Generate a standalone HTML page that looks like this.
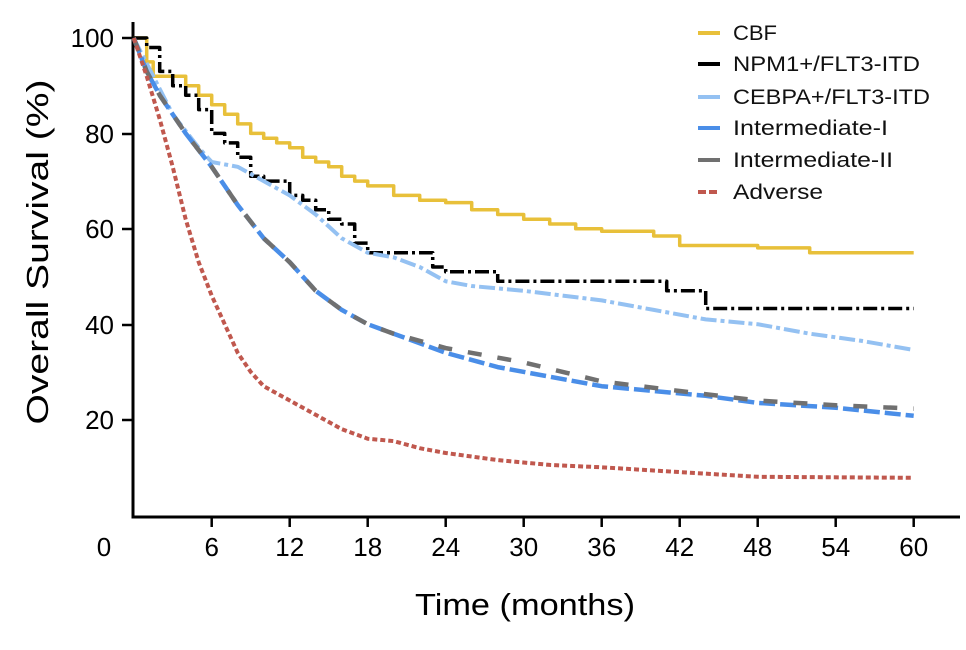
<!DOCTYPE html>
<html><head><meta charset="utf-8"><style>
html,body{margin:0;padding:0;background:#fff}
svg{display:block;font-family:"Liberation Sans",sans-serif}
</style></head><body>
<svg id="s" width="966" height="650" viewBox="0 0 966 650">
<rect width="966" height="650" fill="#fff"/>
<line x1="133" y1="22" x2="133" y2="518" stroke="#000" stroke-width="3"/>
<line x1="131.5" y1="517" x2="960" y2="517" stroke="#000" stroke-width="3"/>
<g stroke="#000" stroke-width="2.5">
<line x1="122" y1="38" x2="133" y2="38"/><line x1="122" y1="134" x2="133" y2="134"/>
<line x1="122" y1="229" x2="133" y2="229"/><line x1="122" y1="325" x2="133" y2="325"/>
<line x1="122" y1="420" x2="133" y2="420"/>
</g>
<g id="xt" stroke="#000" stroke-width="2.5"></g>
<g font-size="26" text-anchor="end" fill="#000">
<text x="114" y="47">100</text><text x="114" y="143">80</text><text x="114" y="238">60</text>
<text x="114" y="334">40</text><text x="114" y="429">20</text>
</g>
<g id="xl" font-size="26" text-anchor="middle" fill="#000"><text x="104" y="556">0</text></g>
<text x="525" y="615" font-size="31" text-anchor="middle" textLength="220" lengthAdjust="spacingAndGlyphs">Time (months)</text>
<text transform="translate(48,252) rotate(-90)" font-size="31" text-anchor="middle" textLength="345" lengthAdjust="spacingAndGlyphs">Overall Survival (%)</text>
<g id="curves" fill="none"></g>
<g font-size="21" fill="#111">
<line x1="698" y1="33" x2="720" y2="33" stroke="#e8c03a" stroke-width="4"/><text x="733" y="40" textLength="44" lengthAdjust="spacingAndGlyphs">CBF</text>
<line x1="698" y1="64" x2="720" y2="64" stroke="#000" stroke-width="4"/><text x="733" y="71" textLength="187" lengthAdjust="spacingAndGlyphs">NPM1+/FLT3-ITD</text>
<line x1="698" y1="97" x2="720" y2="97" stroke="#94c1f2" stroke-width="4"/><text x="733" y="104" textLength="197" lengthAdjust="spacingAndGlyphs">CEBPA+/FLT3-ITD</text>
<line x1="698" y1="128" x2="720" y2="128" stroke="#4a8ee8" stroke-width="4"/><text x="733" y="135" textLength="155" lengthAdjust="spacingAndGlyphs">Intermediate-I</text>
<line x1="698" y1="160" x2="720" y2="160" stroke="#707070" stroke-width="4"/><text x="733" y="167" textLength="160" lengthAdjust="spacingAndGlyphs">Intermediate-II</text>
<line x1="698" y1="192" x2="720" y2="192" stroke="#c0584e" stroke-width="4" stroke-dasharray="8,3"/><text x="733" y="199" textLength="90" lengthAdjust="spacingAndGlyphs">Adverse</text>
</g>
</svg>
<script>
var NS="http://www.w3.org/2000/svg";
function X(m){return 133.7+m*13;}function Y(p){return 515-p*4.77;}
var xt=document.getElementById('xt'),xl=document.getElementById('xl');
for(var m=6;m<=60;m+=6){var l=document.createElementNS(NS,'line');l.setAttribute('x1',X(m));l.setAttribute('x2',X(m));l.setAttribute('y1',517);l.setAttribute('y2',527);xt.appendChild(l);
var t=document.createElementNS(NS,'text');t.setAttribute('x',X(m));t.setAttribute('y',556);t.textContent=m;xl.appendChild(t);}
function step(a){var o=[],py=null;for(var i=0;i<a.length;i+=2){if(py!==null)o.push([a[i],py]);o.push([a[i],a[i+1]]);py=a[i+1];}return o;}
function smooth(a){var o=[];for(var i=0;i<a.length;i+=2)o.push([a[i],a[i+1]]);return o;}
var C=[
[step([0,100,1,95,1.5,92,3,92,4,90,5,88,6,86,7,84,8,82,9,80,10,79,11,78,12,77,13,75,14,74,15,73,16,71,17,70,18,69,20,67,22,66,24,65.5,26,64,28,63,30,62,32,61,34,60,36,59.5,40,58.5,42,56.5,48,56,52,55,60,55]),'#e8c03a',3.5,''],
[step([0,100,1,98,2,93,3,90,4,88,5,85,6,80,7,78,8,75,9,71,10,70,12,67,13,66,14,64,15,62,16,61,17,57,18,55,22,55,23,52,24,51,27,51,28,49,40,49,41,47,43,47,44,43.3,60,43.3]),'#000',3.5,'14,4,3,4'],
[smooth([0,100,1.5,92,3,84,5,77,6,74,8,73,10,70,12,67,14,63,16,58,18,55,20,54,22,52,24,49,26,48,30,47,36,45,40,43,44,41,48,40,52,38,56,36.5,60,34.6]),'#94c1f2',4,'16,4,4,4'],
[smooth([0,100,1,93,2,88,4,80,6,73,8,65,10,58,12,53,14,47,16,43,18,40,20,38,24,34,28,31,32,29,36,27,40,26,44,25,48,23.5,54,22.5,60,20.8]),'#4a8ee8',4.5,'16,5'],
[smooth([0,100,1,93,2,88,4,80,6,73,8,65,10,58,12,53,14,47,16,43,18,40,20,38,24,35,30,32,36,28,42,26,48,24,54,23,60,22.3]),'#707070',4.5,'14,16'],
[smooth([0,100,1,92,2,83,3,73,4,62,5,53,6,46,7,40,8,34,9,30,10,27,12,24,14,21,16,18,18,16,20,15.5,22,14,24,13,28,11.5,32,10.5,36,10,42,9,48,8,60,7.8]),'#c0584e',4,'5,3']
];
var g=document.getElementById('curves');
C.forEach(function(c){var p=document.createElementNS(NS,'polyline');
p.setAttribute('points',c[0].map(function(q){return X(q[0]).toFixed(1)+','+Y(q[1]).toFixed(1);}).join(' '));
p.setAttribute('stroke',c[1]);p.setAttribute('stroke-width',c[2]);if(c[3])p.setAttribute('stroke-dasharray',c[3]);
p.setAttribute('stroke-linejoin','round');g.appendChild(p);});
</script>
</body></html>
